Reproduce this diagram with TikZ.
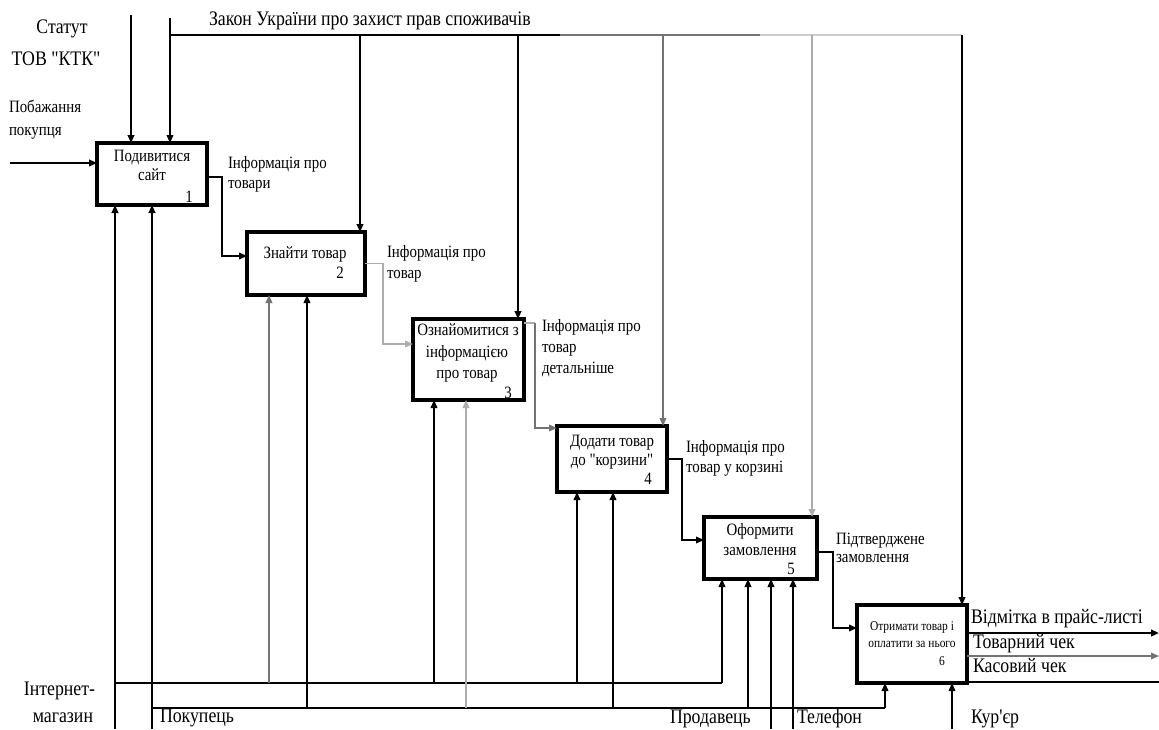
\documentclass[tikz,border=0pt]{standalone}
\usepackage{fontspec}
\setmainfont[FakeStretch=0.86,Ligatures=TeXOff]{Liberation Serif}
\usetikzlibrary{arrows.meta}
\definecolor{gA}{gray}{0.45}
\definecolor{gB}{gray}{0.68}
\definecolor{gC}{gray}{0.8}
\begin{document}
\begin{tikzpicture}[x=0.75pt,y=-0.75pt,
  every node/.style={inner sep=0pt, outer sep=0pt},
  box/.style={draw, line width=2.5pt, anchor=north west},
  ln/.style={line width=1.15pt},
  thk/.style={line width=1.5pt},
  tip/.style={-{Triangle[length=6pt,width=5pt]}},
  big/.style={font=\fontsize{15.5}{18}\selectfont},
  sm/.style={font=\fontsize{13}{15}\selectfont},
  tn/.style={font=\fontsize{10}{12}\selectfont},
  L/.style={anchor=base west},
  C/.style={anchor=base},
  R/.style={anchor=base east}
]
\useasboundingbox (0,0) rectangle (1159,729);

% boxes
\node[box, minimum width=82.5pt, minimum height=46.5pt] (b1) at (97,143) {};
\node[box, minimum width=88.5pt, minimum height=47.25pt] (b2) at (247,232) {};
\node[box, minimum width=83.25pt, minimum height=60.75pt] (b3) at (413,319) {};
\node[box, minimum width=82.5pt, minimum height=49.5pt] (b4) at (557,426) {};
\node[box, minimum width=84.75pt, minimum height=46.5pt] (b5) at (704,517) {};
\node[box, minimum width=82.5pt, minimum height=58.5pt] (b6) at (857,605) {};

% box texts
\node[sm,C] (t1a) at (152,161) {Подивитися};
\node[sm,C] (t1b) at (152,180) {сайт};
\node[sm,C] (n1) at (189,202) {1};
\node[sm,C] (t2a) at (305,258) {Знайти товар};
\node[sm,C] (n2) at (340,278) {2};
\node[sm,C] (t3a) at (468,335) {Ознайомитися з};
\node[sm,C] (t3b) at (467,357) {інформацією};
\node[sm,C] (t3c) at (467,378) {про товар};
\node[sm,C] (n3) at (508,398) {3};
\node[sm,C] (t4a) at (612,446) {Додати товар};
\node[sm,C] (t4b) at (612,465) {до "корзини"};
\node[sm,C] (n4) at (648,484) {4};
\node[sm,C] (t5a) at (760,535) {Оформити};
\node[sm,C] (t5b) at (760,555) {замовлення};
\node[sm,C] (n5) at (791,574) {5};
\node[tn,C] (t6a) at (912,630) {Отримати товар і};
\node[tn,C] (t6b) at (912,647) {оплатити за нього};
\node[tn,C] (n6) at (942,665) {6};

% labels
\node[big,C] (lst1) at (62,33) {Статут};
\node[big,C] (lst2) at (56,65) {ТОВ "КТК"};
\node[big,L] (lzak) at (209,25) {Закон України про захист прав споживачів};
\node[sm,L] (lpb1) at (9,112) {Побажання};
\node[sm,L] (lpb2) at (9,135) {покупця};
\node[sm,L] (lo1a) at (228,168) {Інформація про};
\node[sm,L] (lo1b) at (228,188) {товари};
\node[sm,L] (lo2a) at (387,257) {Інформація про};
\node[sm,L] (lo2b) at (387,278) {товар};
\node[sm,L] (lo3a) at (542,331) {Інформація про};
\node[sm,L] (lo3b) at (542,352) {товар};
\node[sm,L] (lo3c) at (542,373) {детальніше};
\node[sm,L] (lo4a) at (686,452) {Інформація про};
\node[sm,L] (lo4b) at (686,472) {товар у корзині};
\node[sm,L] (lo5a) at (836,544) {Підтверджене};
\node[sm,L] (lo5b) at (836,562) {замовлення};
\node[big,L] (lv1) at (971,623) {Відмітка в прайс-листі};
\node[big,L] (lv2) at (973,648) {Товарний чек};
\node[big,L] (lv3) at (973,672) {Касовий чек};
\node[big,L] (lkur) at (971,723) {Кур'єр};
\node[big,R] (lim1) at (95,695) {Інтернет-};
\node[big,R] (lim2) at (93,722) {магазин};
\node[big,L] (lpok) at (160,722) {Покупець};
\node[big,L] (lprod) at (670,723) {Продавець};
\node[big,L] (ltel) at (797,723) {Телефон};

% input
\coordinate (in1) at (10,163);
\draw[thk,tip] (in1) -- (in1 -| b1.west);

% controls
\coordinate (c1) at (131,15);
\draw[thk,tip] (c1) -- (c1 |- b1.north);
\coordinate (c2) at (170,18);
\draw[ln,tip] (c2) -- (c2 |- b1.north);
\coordinate (k1) at (170,35);
\coordinate (k2) at (360,35);
\coordinate (k3) at (518,35);
\coordinate (kg1) at (560,35);
\coordinate (k4) at (663,35);
\coordinate (kg2) at (760,35);
\coordinate (k5) at (812,35);
\coordinate (k6) at (962,35);
\draw[ln] (k1) -- (kg1);
\draw[ln,gA] (kg1) -- (kg2);
\draw[ln,gC] (kg2) -- (k6);
\draw[thk,tip] (k2) -- (k2 |- b2.north);
\draw[thk,tip] (k3) -- (k3 |- b3.north);
\draw[ln,gA,tip] (k4) -- (k4 |- b4.north);
\draw[ln,gB,tip] (k5) -- (k5 |- b5.north);
\draw[thk,tip] (k6) -- (k6 |- b6.north);

% outputs between boxes
\coordinate (o1a) at (222,177);
\coordinate (o1b) at (222,256);
\draw[ln,tip] (o1a -| b1.east) -- (o1a) -- (o1b) -- (o1b -| b2.west);
\coordinate (o2) at (383,344);
\draw[ln,gB,tip] (b2.east) -| (o2) -- (o2 -| b3.west);
\coordinate (o3a) at (535,323);
\coordinate (o3b) at (535,428);
\draw[ln,gB] (o3a -| b3.east) -- (o3a);
\draw[ln,gA,tip] (o3a) -- (o3b) -- (o3b -| b4.west);
\coordinate (o4) at (682,540);
\draw[ln,tip] (b4.east) -| (o4) -- (o4 -| b5.west);
\coordinate (o5a) at (833,552);
\coordinate (o5b) at (833,628);
\draw[ln,tip] (o5a -| b5.east) -- (o5a) -- (o5b) -- (o5b -| b6.west);

% final outputs
\coordinate (e1) at (1159,633);
\coordinate (e2) at (1159,656);
\coordinate (e3) at (1159,682);
\draw[thk,tip] (e1 -| b6.east) -- (e1);
\draw[ln,gA,tip] (e2 -| b6.east) -- (e2);
\draw[thk] (e3 -| b6.east) -- (e3);

% mechanisms: Інтернет-магазин
\coordinate (m1) at (115,729);
\coordinate (h1a) at (115,683);
\coordinate (h1b) at (722,683);
\draw[thk,tip] (m1) -- (m1 |- b1.south);
\draw[thk] (h1a) -- (h1b);
\draw[ln,tip] (h1b) -- (h1b |- b5.south);
\coordinate (m2a) at (269,683);
\draw[ln,gA,tip] (m2a) -- (m2a |- b2.south);
\coordinate (m3a) at (434,683);
\draw[ln,tip] (m3a) -- (m3a |- b3.south);
\coordinate (m4a) at (577,683);
\draw[ln,tip] (m4a) -- (m4a |- b4.south);

% mechanisms: Покупець
\coordinate (m0) at (152,729);
\coordinate (h2a) at (152,708);
\coordinate (h2b) at (885,708);
\draw[thk,tip] (m0) -- (m0 |- b1.south);
\draw[thk] (h2a) -- (h2b);
\draw[ln,tip] (h2b) -- (h2b |- b6.south);
\coordinate (m2b) at (307,708);
\draw[ln,tip] (m2b) -- (m2b |- b2.south);
\coordinate (m3b) at (466,708);
\draw[ln,gB,tip] (m3b) -- (m3b |- b3.south);
\coordinate (m4b) at (613,708);
\draw[ln,tip] (m4b) -- (m4b |- b4.south);

% other mechanisms
\coordinate (mp) at (748,708);
\draw[ln,tip] (mp) -- (mp |- b5.south);
\coordinate (mx) at (771,729);
\draw[ln,tip] (mx) -- (mx |- b5.south);
\coordinate (mt) at (793,729);
\draw[ln,tip] (mt) -- (mt |- b5.south);
\coordinate (mk) at (952,729);
\draw[ln,tip] (mk) -- (mk |- b6.south);
\end{tikzpicture}
\end{document}
